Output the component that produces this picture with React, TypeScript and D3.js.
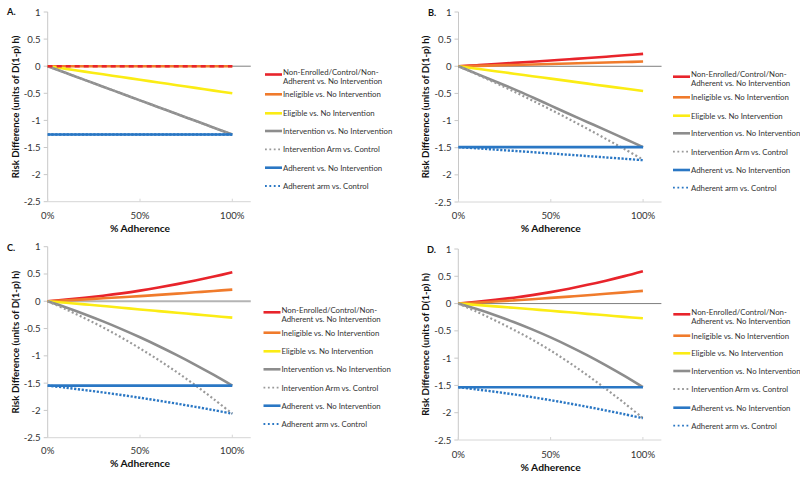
import React from "react";
import * as d3 from "d3";

const adherence = [0, 0.1, 0.2, 0.3, 0.4, 0.5, 0.6, 0.7, 0.8, 0.9, 1.0];
const yTicks = [1, 0.5, 0, -0.5, -1, -1.5, -2, -2.5];
const xTicks = [0, 0.5, 1];
const legendLabels = [
  ["Non-Enrolled/Control/Non-", "Adherent vs. No Intervention"],
  ["Ineligible vs. No Intervention"],
  ["Eligible vs. No Intervention"],
  ["Intervention vs. No Intervention"],
  ["Intervention Arm vs. Control"],
  ["Adherent vs. No Intervention"],
  ["Adherent arm vs. Control"],
];
const panelLetters = ["A.", "B.", "C.", "D."];

// Panel A
const aNonEnrolled = [0, 0, 0, 0, 0, 0, 0, 0, 0, 0, 0];
const aIneligible = [0, 0, 0, 0, 0, 0, 0, 0, 0, 0, 0];
const aEligible = [0, -0.05, -0.1, -0.15, -0.2, -0.25, -0.3, -0.35, -0.4, -0.45, -0.5];
const aIntervention = [0, -0.126, -0.252, -0.378, -0.504, -0.63, -0.756, -0.882, -1.008, -1.134, -1.26];
const aInterventionArm = [0, -0.126, -0.252, -0.378, -0.504, -0.63, -0.756, -0.882, -1.008, -1.134, -1.26];
const aAdherent = [-1.26, -1.26, -1.26, -1.26, -1.26, -1.26, -1.26, -1.26, -1.26, -1.26, -1.26];
const aAdherentArm = [-1.26, -1.26, -1.26, -1.26, -1.26, -1.26, -1.26, -1.26, -1.26, -1.26, -1.26];

// Panel B
const bNonEnrolled = [0, 0.02, 0.041, 0.062, 0.084, 0.106, 0.129, 0.153, 0.177, 0.202, 0.228];
const bIneligible = [0, 0.008, 0.016, 0.025, 0.034, 0.043, 0.052, 0.06, 0.069, 0.078, 0.087];
const bEligible = [0, -0.045, -0.09, -0.136, -0.182, -0.228, -0.274, -0.32, -0.366, -0.41, -0.455];
const bIntervention = [0, -0.14, -0.28, -0.42, -0.57, -0.725, -0.88, -1.03, -1.18, -1.335, -1.49];
const bInterventionArm = [0, -0.15, -0.305, -0.465, -0.63, -0.8, -0.975, -1.155, -1.34, -1.527, -1.72];
const bAdherent = [-1.49, -1.49, -1.49, -1.49, -1.49, -1.49, -1.49, -1.49, -1.49, -1.49, -1.49];
const bAdherentArm = [-1.49, -1.512, -1.535, -1.558, -1.582, -1.606, -1.63, -1.654, -1.679, -1.704, -1.73];

// Panel C
const cNonEnrolled = [0, 0.03, 0.064, 0.102, 0.145, 0.195, 0.252, 0.314, 0.381, 0.453, 0.53];
const cIneligible = [0, 0.017, 0.035, 0.054, 0.074, 0.095, 0.117, 0.14, 0.164, 0.189, 0.214];
const cEligible = [0, -0.028, -0.057, -0.087, -0.118, -0.15, -0.18, -0.21, -0.24, -0.27, -0.3];
const cIntervention = [0, -0.114, -0.237, -0.369, -0.51, -0.66, -0.819, -0.987, -1.164, -1.35, -1.545];
const cInterventionArm = [0, -0.15, -0.31, -0.48, -0.665, -0.865, -1.075, -1.3, -1.54, -1.795, -2.06];
const cAdherent = [-1.545, -1.545, -1.545, -1.545, -1.545, -1.545, -1.545, -1.545, -1.545, -1.545, -1.545];
const cAdherentArm = [-1.545, -1.585, -1.627, -1.671, -1.718, -1.768, -1.821, -1.876, -1.934, -1.995, -2.06];

// Panel D
const dNonEnrolled = [0, 0.031, 0.067, 0.108, 0.155, 0.21, 0.273, 0.343, 0.42, 0.503, 0.593];
const dIneligible = [0, 0.018, 0.037, 0.058, 0.08, 0.104, 0.128, 0.153, 0.179, 0.205, 0.232];
const dEligible = [0, -0.025, -0.051, -0.078, -0.105, -0.133, -0.16, -0.188, -0.215, -0.243, -0.27];
const dIntervention = [0, -0.101, -0.213, -0.337, -0.473, -0.62, -0.779, -0.95, -1.133, -1.327, -1.533];
const dInterventionArm = [0, -0.15, -0.31, -0.48, -0.66, -0.86, -1.08, -1.315, -1.565, -1.825, -2.1];
const dAdherent = [-1.533, -1.533, -1.533, -1.533, -1.533, -1.533, -1.533, -1.533, -1.533, -1.533, -1.533];
const dAdherentArm = [-1.533, -1.573, -1.617, -1.664, -1.715, -1.77, -1.83, -1.893, -1.959, -2.028, -2.1];

const panelSeries = [
  [aNonEnrolled, aIneligible, aEligible, aIntervention, aInterventionArm, aAdherent, aAdherentArm],
  [bNonEnrolled, bIneligible, bEligible, bIntervention, bInterventionArm, bAdherent, bAdherentArm],
  [cNonEnrolled, cIneligible, cEligible, cIntervention, cInterventionArm, cAdherent, cAdherentArm],
  [dNonEnrolled, dIneligible, dEligible, dIntervention, dInterventionArm, dAdherent, dAdherentArm],
];

const styles = [
  { color: "#e8242b", width: 2.6, dash: null as string | null },
  { color: "#f07b2c", width: 2.6, dash: null },
  { color: "#fbec14", width: 2.6, dash: null },
  { color: "#8d8d8d", width: 2.6, dash: null },
  { color: "#9a9a9a", width: 2.2, dash: "2,2.4" },
  { color: "#2a77c4", width: 2.6, dash: null },
  { color: "#2a77c4", width: 2.4, dash: "2.2,1.6" },
];

const layouts = [
  { left: 47.7, top: 12, bottom: 201.7, tickY: 215, titleY: 228, letterX: 7, letterY: 11, yTitleX: 15, legX: 265, legRows: [74.5, 94.3, 113.3, 131, 149.3, 167.7, 186], zeroColor: "#7f7f7f", zeroW: 1 },
  { left: 458.5, top: 12, bottom: 202, tickY: 215, titleY: 228, letterX: 428, letterY: 12, yTitleX: 425, legX: 673, legRows: [76.7, 97.3, 115.7, 133.3, 151.7, 170, 187.7], zeroColor: "#7f7f7f", zeroW: 1 },
  { left: 47.7, top: 246.7, bottom: 437.7, tickY: 450, titleY: 463, letterX: 7, letterY: 247, yTitleX: 15, legX: 263.5, legRows: [312.3, 332.7, 351.3, 369.3, 387.7, 405.7, 424], zeroColor: "#b4b4b4", zeroW: 2 },
  { left: 458.3, top: 249, bottom: 440, tickY: 454, titleY: 466.5, letterX: 427, letterY: 249, yTitleX: 425, legX: 673.3, legRows: [314.3, 335.7, 353.3, 371, 389, 407.7, 425.7], zeroColor: "#7f7f7f", zeroW: 1 },
];

const FONT = "Lato, 'Open Sans', sans-serif";
const UNIT = 184.6;

function Panel({ idx }: { idx: number }) {
  const L = layouts[idx];
  const series = panelSeries[idx];
  const x = d3.scaleLinear().domain([0, 1.1]).range([L.left, L.left + 1.1 * UNIT]);
  const y = d3.scaleLinear().domain([-2.5, 1]).range([L.bottom, L.top]);
  const line = d3
    .line<number>()
    .x((_, i) => x(adherence[i]))
    .y((d) => y(d))
    .curve(d3.curveCatmullRom.alpha(0.5));
  const midY = (L.top + L.bottom) / 2;
  return (
    <g>
      <line x1={L.left} x2={L.left} y1={L.top} y2={L.bottom} stroke="#c8c8c8" strokeWidth={1} />
      {yTicks.map((t) => (
        <g key={t}>
          <line x1={L.left - 4} x2={L.left} y1={y(t)} y2={y(t)} stroke="#c8c8c8" strokeWidth={1} />
          <text x={L.left - 7} y={y(t)} textAnchor="end" dominantBaseline="central" fontFamily={FONT} fontSize={9.6} fill="#333">
            {t}
          </text>
        </g>
      ))}
      <line x1={L.left} x2={x(1.1)} y1={L.bottom} y2={L.bottom} stroke="#d6d6d6" strokeWidth={1} />
      {xTicks.map((t) => (
        <g key={t}>
          <line x1={x(t)} x2={x(t)} y1={L.bottom - 3} y2={L.bottom} stroke="#d6d6d6" strokeWidth={1} />
          <text x={x(t)} y={L.tickY} textAnchor="middle" dominantBaseline="central" fontFamily={FONT} fontSize={9.6} fill="#333">
            {d3.format(".0%")(t)}
          </text>
        </g>
      ))}
      <line x1={L.left} x2={x(1.1)} y1={y(0)} y2={y(0)} stroke={L.zeroColor} strokeWidth={L.zeroW} />
      {series.map((s, i) => {
        const st = styles[i];
        if (idx === 0 && i === 0) return null;
        return (
          <path key={i} d={line(s) || ""} fill="none" stroke={st.color} strokeWidth={st.width} strokeDasharray={st.dash || undefined} />
        );
      })}
      {idx === 0 && (
        <path d={line(series[0]) || ""} fill="none" stroke={styles[0].color} strokeWidth={2.6} strokeDasharray="5,4" />
      )}
      <text x={x(0.5)} y={L.titleY} textAnchor="middle" dominantBaseline="central" fontFamily={FONT} fontWeight="bold" fontSize={10.3} fill="#111">
        % Adherence
      </text>
      <text
        transform={`translate(${L.yTitleX},${midY}) rotate(-90)`}
        textAnchor="middle"
        dominantBaseline="central"
        fontFamily={FONT}
        fontWeight="bold"
        fontSize={9.7}
        fill="#111"
      >
        Risk Difference (units of D(1-p) h)
      </text>
      <text x={L.letterX} y={L.letterY} dominantBaseline="central" fontFamily={FONT} fontWeight="bold" fontSize={9.2} fill="#111">
        {panelLetters[idx]}
      </text>
      {legendLabels.map((lab, i) => {
        const st = styles[i];
        const ry = L.legRows[i];
        const x0 = L.legX;
        const x1 = L.legX + 17;
        return (
          <g key={i}>
            {st.dash ? (
              <line x1={x0} x2={x1} y1={ry} y2={ry} stroke={st.color} strokeWidth={1.8} strokeDasharray="1.8,2.6" />
            ) : (
              <line x1={x0} x2={x1} y1={ry} y2={ry} stroke={st.color} strokeWidth={2.6} />
            )}
            {lab.length === 2 ? (
              <>
                <text x={x1 + 1} y={ry - 2.6} dominantBaseline="central" fontFamily={FONT} fontSize={7.8} fill="#333">
                  {lab[0]}
                </text>
                <text x={x1 + 1} y={ry + 6.7} dominantBaseline="central" fontFamily={FONT} fontSize={7.8} fill="#333">
                  {lab[1]}
                </text>
              </>
            ) : (
              <text x={x1 + 1} y={ry} dominantBaseline="central" fontFamily={FONT} fontSize={7.8} fill="#333">
                {lab[0]}
              </text>
            )}
          </g>
        );
      })}
    </g>
  );
}

export default function App() {
  return (
    <svg width={800} height={477} style={{ position: "absolute", left: 0, top: 0, background: "#fff" }}>
      <rect x={0} y={0} width={800} height={477} fill="#fff" />
      {[0, 1, 2, 3].map((i) => (
        <Panel key={i} idx={i} />
      ))}
    </svg>
  );
}
